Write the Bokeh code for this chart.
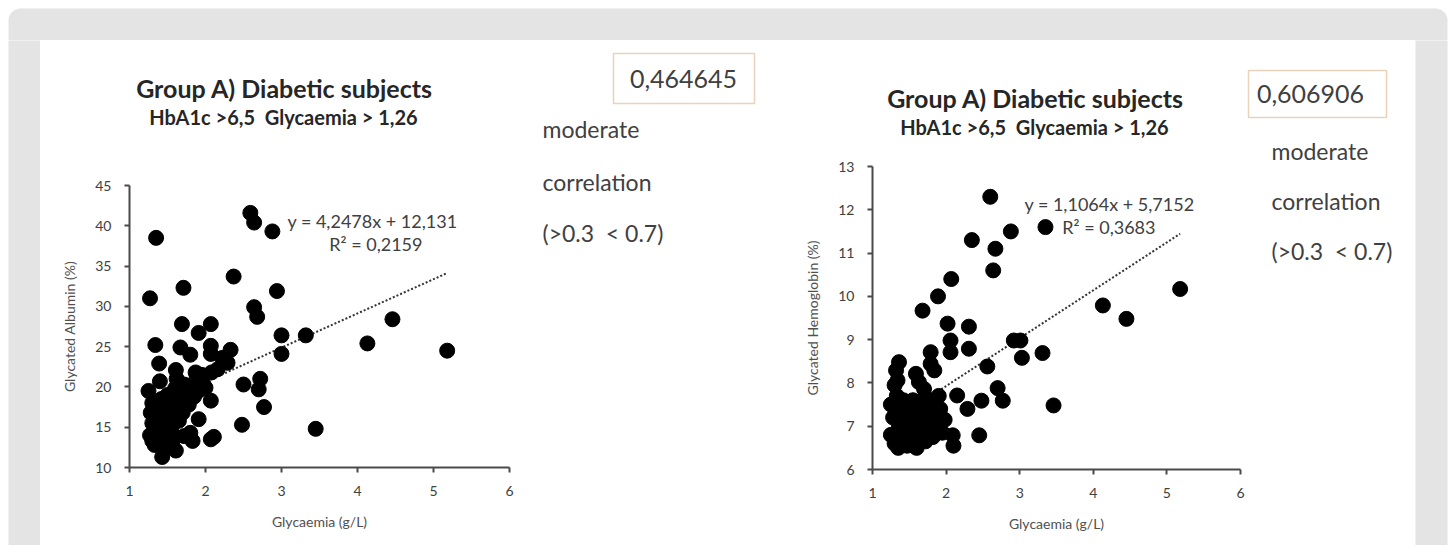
from bokeh.plotting import figure
from bokeh.layouts import row, column
from bokeh.models import Range1d, FixedTicker, Label
from bokeh.embed import file_html
from bokeh.resources import INLINE

# ---------------- data ----------------
glyc_alb = [1.35, 1.27, 1.71, 2.59, 2.64, 2.88, 2.37, 2.94, 2.64, 2.68, 1.69, 1.91, 2.07,
            4.46, 4.13, 3.00, 3.32, 3.00, 5.18, 3.45, 2.50, 2.72, 2.70, 2.77, 2.48, 1.34,
            1.67, 1.80, 2.07, 2.07, 2.33, 2.29, 2.22, 1.39, 1.61, 1.87, 2.08, 2.16, 2.07,
            1.91, 2.07, 2.11, 1.83, 1.43, 1.61, 1.30, 1.25,
            1.30, 1.28, 1.30, 1.27, 1.35, 1.38, 1.40, 1.36, 1.42, 1.45, 1.48, 1.45, 1.50,
            1.55, 1.52, 1.55, 1.58, 1.60, 1.62, 1.65, 1.68, 1.72, 1.70, 1.75, 1.78, 1.82,
            1.85, 1.88, 1.92, 1.97, 2.00, 1.80, 1.72, 1.50, 1.40, 1.62, 1.35, 1.95, 1.33, 1.60]
albumin = [38.5, 31.0, 32.3, 41.6, 40.4, 39.3, 33.7, 31.9, 29.9, 28.7, 27.8, 26.7, 27.8,
           28.4, 25.4, 26.4, 26.4, 24.1, 24.5, 14.8, 20.3, 21.0, 19.7, 17.5, 15.3, 25.2,
           24.9, 24.0, 25.1, 24.1, 24.6, 23.0, 23.6, 22.9, 22.1, 21.8, 21.8, 22.2, 18.3,
           16.0, 13.5, 13.8, 13.3, 11.3, 12.1, 13.3, 19.5,
           18.0, 16.8, 15.5, 14.0, 17.2, 16.0, 14.5, 13.6, 18.5, 17.0, 15.3, 13.8, 19.0,
           18.0, 16.5, 14.8, 13.5, 19.8, 17.3, 15.8, 18.6, 20.3, 16.8, 19.2, 17.8, 20.0,
           18.8, 21.0, 19.6, 20.4, 19.9, 14.3, 13.9, 12.6, 20.7, 21.0, 15.0, 21.5, 12.8, 16.0]

glyc_hb = [2.60, 3.35, 2.35, 2.88, 2.67, 2.64, 2.07, 1.89, 1.68, 2.02, 2.31, 2.06, 2.06,
           2.31, 1.79, 1.79, 1.84, 1.36, 1.32, 1.34, 1.59, 1.63, 1.70, 2.56, 2.92, 3.01,
           3.03, 3.31, 3.46, 2.70, 2.77, 2.48, 2.15, 2.29, 2.45, 2.09, 2.10, 4.13, 4.45, 5.18,
           1.25, 1.28, 1.25, 1.30, 1.33, 1.36, 1.38, 1.40, 1.42, 1.45, 1.47, 1.50, 1.52,
           1.55, 1.55, 1.58, 1.60, 1.62, 1.65, 1.68, 1.70, 1.72, 1.75, 1.78, 1.80, 1.82,
           1.85, 1.88, 1.92, 1.95, 1.98, 1.35, 1.60, 1.90, 1.30]
hba1c = [12.3, 11.6, 11.3, 11.5, 11.1, 10.6, 10.4, 10.0, 9.67, 9.37, 9.30, 8.98, 8.71,
         8.79, 8.71, 8.44, 8.29, 8.48, 8.29, 8.06, 8.21, 8.02, 7.86, 8.38, 8.98, 8.98,
         8.58, 8.69, 7.48, 7.88, 7.59, 7.59, 7.71, 7.40, 6.79, 6.79, 6.55, 9.79, 9.48, 10.17,
         7.5, 7.2, 6.8, 6.6, 7.7, 7.0, 7.4, 6.7, 7.6, 7.1, 6.55, 7.3, 6.9,
         7.6, 6.6, 7.1, 7.45, 6.8, 7.2, 7.6, 6.95, 6.65, 7.35, 7.05, 7.6, 6.75,
         7.3, 7.0, 7.4, 6.85, 7.15, 6.5, 6.5, 7.7, 7.95]

alb_slope, alb_intercept = 4.2478, 12.131
hb_slope, hb_intercept = 1.1064, 5.7152

x_ticks = [1, 2, 3, 4, 5, 6]
alb_ticks = [10, 15, 20, 25, 30, 35, 40, 45]
hb_ticks = [6, 7, 8, 9, 10, 11, 12, 13]

NB = "\u00a0"
title_main = "Group A) Diabetic subjects"
title_sub = "HbA1c >6,5" + NB + " Glycaemia > 1,26"
x_title = "Glycaemia (g/L)"
alb_title = "Glycated Albumin (%)"
hb_title = "Glycated Hemoglobin (%)"
alb_eq = ["y = 4,2478x + 12,131", "R\u00b2 = 0,2159"]
hb_eq = ["y = 1,1064x + 5,7152", "R\u00b2 = 0,3683"]
alb_r = "0,464645"
hb_r = "0,606906"
verdict = ["moderate", "correlation", "(>0.3" + NB + " < 0.7)"]

FONT = "Lato"
GREY = "#e4e4e4"
TXT = "#404040"
BOX = "#ebd2ba"


def plain_fig(w, h):
    f = figure(width=w, height=h, x_range=Range1d(0, w), y_range=Range1d(h, 0),
               x_axis_type=None, y_axis_type=None, toolbar_location=None,
               output_backend="svg", min_border=0, outline_line_color=None,
               background_fill_color="white", border_fill_color="white",
               frame_align=False)
    f.xgrid.visible = False
    f.ygrid.visible = False
    return f


def strip(w, h, left, right, top, bottom, radius=0):
    f = plain_fig(w, h)
    f.quad(left=[left], right=[right], top=[top], bottom=[bottom], fill_color=GREY,
           line_color=None, border_radius=radius)
    return f


def label(f, x, y, text, size, bold=False, align="left", color=TXT):
    f.add_layout(Label(x=x, y=y, text=text, text_font=FONT, text_font_size=f"{size}px",
                       text_font_style="bold" if bold else "normal", text_align=align,
                       text_baseline="middle", text_color=color))


def scatter_fig(width, height, borders, xr, yr, yticks, ytitle):
    bl, br, bt, bb = borders
    p = figure(width=width, height=height, x_range=Range1d(*xr), y_range=Range1d(*yr),
               toolbar_location=None, output_backend="svg",
               min_border_left=bl, min_border_right=br, min_border_top=bt, min_border_bottom=bb,
               outline_line_color=None, background_fill_color="white",
               border_fill_color="white", frame_align=False)
    p.xgrid.visible = False
    p.ygrid.visible = False
    for ax in (p.xaxis[0], p.yaxis[0]):
        ax.axis_line_color = "#4a4a4a"
        ax.axis_line_width = 2
        ax.major_tick_line_color = "#4a4a4a"
        ax.major_tick_line_width = 2
        ax.major_tick_out = 5
        ax.major_tick_in = 0
        ax.minor_tick_line_color = None
        ax.major_label_text_font = FONT
        ax.major_label_text_font_size = "14px"
        ax.major_label_text_color = TXT
        ax.major_label_standoff = 13
        ax.axis_label_text_font = FONT
        ax.axis_label_text_font_size = "14px"
        ax.axis_label_text_font_style = "normal"
        ax.axis_label_text_color = "#505050"
        ax.axis_label_standoff = 14
    p.xaxis[0].ticker = FixedTicker(ticks=x_ticks)
    p.yaxis[0].ticker = FixedTicker(ticks=yticks)
    p.xaxis[0].axis_label = x_title
    p.yaxis[0].axis_label = ytitle
    return p


def make_conv(l, r, t, b, x0, x1, y0, y1):
    def conv(px, py):
        return (x0 + (px - l) * (x1 - x0) / (r - l), y0 + (b - py) * (y1 - y0) / (b - t))
    return conv


# ---------------- left group (canvas x 40..790) ----------------
title1 = plain_fig(495, 110)                      # canvas x 40..535, y 40..150
label(title1, 244, 47, title_main, 25, bold=True, align="center", color="#262626")
label(title1, 243, 76, title_sub, 20, bold=True, align="center", color="#262626")

p1 = scatter_fig(495, 395, (89, 26, 35, 78), (1, 6), (10, 45), alb_ticks, alb_title)
conv1 = make_conv(129, 509, 185, 467, 1, 6, 10, 45)
tx1 = [min(glyc_alb), max(glyc_alb)]
p1.line(tx1, [alb_slope * v + alb_intercept for v in tx1], line_color="#333333",
        line_width=2, line_dash="2 2")
p1.scatter(glyc_alb, albumin, size=15, fill_color="black", line_color="black")
x, y = conv1(372, 220)
label(p1, x, y, alb_eq[0], 18, align="center")
x, y = conv1(422, 243)
label(p1, x, y, alb_eq[1], 18, align="right")

side1 = plain_fig(255, 505)                       # canvas x 535..790, y 40..545
side1.quad(left=[78], right=[219], top=[13], bottom=[63], fill_color=None,
           line_color=BOX, line_width=1.5)
label(side1, 148, 38, alb_r, 25, align="center")
label(side1, 7, 88, verdict[0], 23)
label(side1, 7, 141, verdict[1], 23)
label(side1, 7, 192, verdict[2], 23)

# ---------------- right group (canvas x 790..1415) ----------------
title2 = plain_fig(456, 110)                      # canvas x 790..1246, y 40..150
label(title2, 245, 57, title_main, 25, bold=True, align="center", color="#262626")
label(title2, 244, 86, title_sub, 20, bold=True, align="center", color="#262626")

p2 = scatter_fig(456, 395, (82, 6, 16, 76), (1, 6), (6, 13), hb_ticks, hb_title)
conv2 = make_conv(872, 1240, 166, 469, 1, 6, 6, 13)
tx2 = [min(glyc_hb), max(glyc_hb)]
p2.line(tx2, [hb_slope * v + hb_intercept for v in tx2], line_color="#333333",
        line_width=2, line_dash="2 2")
p2.scatter(glyc_hb, hba1c, size=15, fill_color="black", line_color="black")
x, y = conv2(1109, 203)
label(p2, x, y, hb_eq[0], 18, align="center")
x, y = conv2(1155, 226)
label(p2, x, y, hb_eq[1], 18, align="right")

side2 = plain_fig(169, 505)                       # canvas x 1246..1415, y 40..545
side2.quad(left=[2], right=[140], top=[30], bottom=[77], fill_color=None,
           line_color=BOX, line_width=1.5)
label(side2, 64, 53, hb_r, 25, align="center")
label(side2, 25, 110, verdict[0], 23)
label(side2, 25, 160, verdict[1], 23)
label(side2, 25, 210, verdict[2], 23)

# ---------------- frame strips ----------------
top = strip(1450, 40, 8, 1447, 8, 80, radius=12)
left = strip(40, 505, 8, 41, -5, 510)
right = strip(35, 505, -1, 32, -5, 510)

left_group = row(column(title1, p1, spacing=0), side1, spacing=0)
right_group = row(column(title2, p2, spacing=0), side2, spacing=0)
layout = column(top, row(left, left_group, right_group, right, spacing=0), spacing=0)

open("out.html", "w").write(file_html(layout, INLINE))
